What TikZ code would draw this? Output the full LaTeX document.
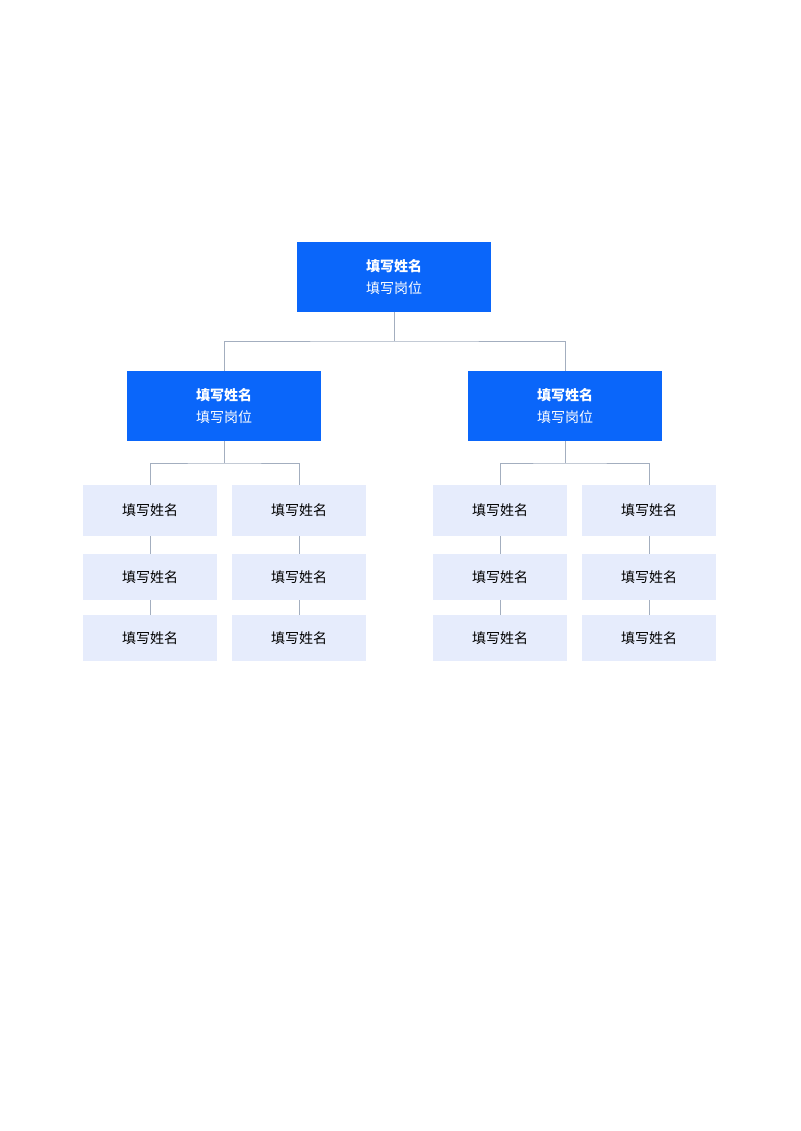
\documentclass[tikz,border=0pt]{standalone}
\usepackage{fontspec}
\setmainfont{Noto Sans CJK SC}
\definecolor{bossblue}{HTML}{0A66FA}
\definecolor{lightbox}{HTML}{E6ECFC}
\definecolor{linegray}{HTML}{A3AEBF}
\begin{document}
\begin{tikzpicture}[x=1pt,y=-1pt,
  bigbox/.style={fill=bossblue,minimum width=194pt,minimum height=70pt,text=white,align=center,inner sep=0pt,font=\fontsize{14}{22}\selectfont},
  smallbox/.style={fill=lightbox,minimum width=134pt,text=black,inner sep=0pt,font=\fontsize{14}{18}\selectfont},
  conn/.style={draw=linegray,line width=0.8pt}]
\useasboundingbox[fill=white] (0,0) rectangle (800,1131);
\node[bigbox] (top) at (394,277) {\textbf{填写姓名}\\填写岗位};
\node[bigbox] (l) at (224,406) {\textbf{填写姓名}\\填写岗位};
\node[bigbox] (r) at (565,406) {\textbf{填写姓名}\\填写岗位};
\foreach \c/\x in {a/150,b/299,c/500,d/649}{
  \node[smallbox,minimum height=51pt] (\c1) at (\x,510.5) {填写姓名};
  \node[smallbox,minimum height=46pt] (\c2) at (\x,577) {填写姓名};
  \node[smallbox,minimum height=46pt] (\c3) at (\x,638) {填写姓名};
  \draw[conn] (\c1) -- (\c2);
  \draw[conn] (\c2) -- (\c3);
}
\coordinate (j0) at (394,341);
\draw[conn] (top.south) -- (j0);
\draw[conn] (l.north) |- (j0) -| (r.north);
\coordinate (jl) at (224,463);
\coordinate (jr) at (565,463);
\draw[conn] (l.south) -- (jl);
\draw[conn] (a1.north) |- (jl) -| (b1.north);
\draw[conn] (r.south) -- (jr);
\draw[conn] (c1.north) |- (jr) -| (d1.north);
\end{tikzpicture}
\end{document}
